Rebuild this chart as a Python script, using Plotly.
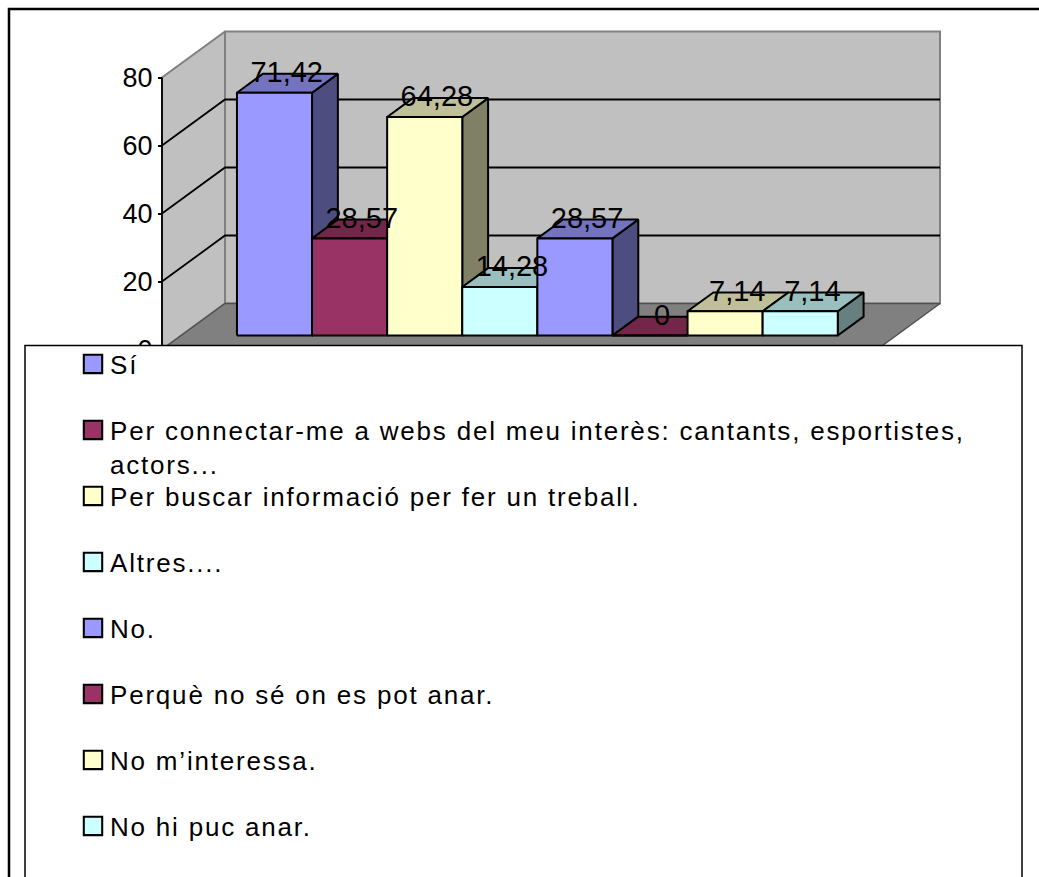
import plotly.graph_objects as go

# ---- data ----
categories = ["Sí",
              "Per connectar-me a webs del meu interès: cantants, esportistes,",
              "Per buscar informació per fer un treball.",
              "Altres....",
              "No.",
              "Perquè no sé on es pot anar.",
              "No m’interessa.",
              "No hi puc anar."]
values = [71.42, 28.57, 64.28, 14.28, 28.57, 0, 7.14, 7.14]
wrapped_line = "actors..."
front_colors = ["#9999FF", "#993366", "#FFFFCC", "#CCFFFF"] * 2
side_colors = ["#4D4D80", "#4D1A33", "#808066", "#668080"] * 2
top_colors = ["#7373BF", "#732649", "#BFBF99", "#99BFBF"] * 2
y_ticks = [0, 20, 40, 60, 80]

# ---- pseudo-3D geometry, in pixels of the page ----
W, H = 1039, 877
PX_CAT, PX_VAL = 75.1, 3.4          # pixels per bar slot / per value unit
ORIGIN_X, ORIGIN_Y = 217.8, 349.5   # pixel of category 0, value 0, depth 0
DEPTH_X, DEPTH_Y = 63.0, 46.0       # pixel shift from front to back of floor
FRONT_D, BACK_D = 0.304, 0.714      # where bars sit in the depth
CAT_L, CAT_R = -0.743, 8.778        # floor ends in category units
VAL_MAX = y_ticks[-1]
LABEL_DROP = 6 / PX_VAL             # data labels sit slightly into the bar top


def pt(cat, val, d):
    """Oblique projection to axis units."""
    return cat + d * DEPTH_X / PX_CAT, val + d * DEPTH_Y / PX_VAL


def poly(*corners):
    pts = [pt(*c) for c in corners]
    pts.append(pts[0])
    return [p[0] for p in pts], [p[1] for p in pts]


fig = go.Figure()


def face(corners, fill, line="#000000", width=2):
    x, y = poly(*corners)
    fig.add_trace(go.Scatter(x=x, y=y, mode="lines", fill="toself", fillcolor=fill,
                             line=dict(color=line, width=width), hoverinfo="skip",
                             showlegend=False))


def stroke(corners, color, width):
    pts = [pt(*c) for c in corners]
    fig.add_trace(go.Scatter(x=[p[0] for p in pts], y=[p[1] for p in pts], mode="lines",
                             line=dict(color=color, width=width), hoverinfo="skip",
                             showlegend=False))


# walls and floor
face([(CAT_L, 0, 0), (CAT_L, 0, 1), (CAT_L, VAL_MAX, 1), (CAT_L, VAL_MAX, 0)], "#C0C0C0", "#808080", 2)
face([(CAT_L, 0, 1), (CAT_R, 0, 1), (CAT_R, VAL_MAX, 1), (CAT_L, VAL_MAX, 1)], "#C0C0C0", "#808080", 2)
face([(CAT_L, 0, 0), (CAT_R, 0, 0), (CAT_R, 0, 1), (CAT_L, 0, 1)], "#808080", "#505050", 1.5)
for v in y_ticks[1:-1]:
    stroke([(CAT_L, v, 0), (CAT_L, v, 1), (CAT_R, v, 1)], "#000000", 1.8)
stroke([(CAT_L, 0, 0), (CAT_L, VAL_MAX, 0)], "#000000", 1.8)

# bars, left to right so later bars overlap earlier ones
for i, v in enumerate(values):
    l, r = i, i + 1
    face([(r, 0, FRONT_D), (r, 0, BACK_D), (r, v, BACK_D), (r, v, FRONT_D)], side_colors[i])
    face([(l, v, FRONT_D), (r, v, FRONT_D), (r, v, BACK_D), (l, v, BACK_D)], top_colors[i])
    face([(l, 0, FRONT_D), (r, 0, FRONT_D), (r, v, FRONT_D), (l, v, FRONT_D)], front_colors[i])

# data labels on top of every bar
mid = (FRONT_D + BACK_D) / 2
lab = [pt(i + 0.49, v - LABEL_DROP, mid) for i, v in enumerate(values)]
fig.add_trace(go.Scatter(x=[p[0] for p in lab], y=[p[1] for p in lab], mode="text",
                         text=[f"{v:g}".replace(".", ",") for v in values],
                         textposition="top center",
                         textfont=dict(family="Liberation Sans", size=29, color="#000000"),
                         hoverinfo="skip", showlegend=False))

# legend entries
for i, name in enumerate(categories):
    fig.add_trace(go.Scatter(x=[None], y=[None], mode="markers", name=name, legendgroup=f"g{i}",
                             marker=dict(symbol="square", size=16, color=front_colors[i],
                                         line=dict(color="#000000", width=1.8))))

fig.update_layout(
    width=W, height=H, margin=dict(l=0, r=0, t=0, b=0),
    paper_bgcolor="#FFFFFF", plot_bgcolor="#FFFFFF", hovermode=False,
    font=dict(family="Liberation Sans", color="#000000"),
    xaxis=dict(visible=False, domain=[0, 1], range=[-ORIGIN_X / PX_CAT, (W - ORIGIN_X) / PX_CAT]),
    yaxis=dict(domain=[0, 1], range=[(ORIGIN_Y - H) / PX_VAL, ORIGIN_Y / PX_VAL],
               anchor="free", position=162 / W, side="left",
               tickvals=y_ticks, ticks="outside", ticklen=4, tickwidth=1.5, tickcolor="#000000",
               tickfont=dict(size=27, family="Liberation Sans"),
               showgrid=False, zeroline=False, showline=False),
    legend=dict(x=70 / W, y=1 - 340.5 / H, xanchor="left", yanchor="top",
                bgcolor="rgba(0,0,0,0)", borderwidth=0, tracegroupgap=29.2,
                itemsizing="trace", itemclick=False, itemdoubleclick=False,
                font=dict(family="Liberation Sans", size=26, color="#000000")),
    shapes=[
        dict(type="rect", xref="paper", yref="paper", x0=9 / W, x1=1.1, y0=-0.1, y1=1 - 9 / H,
             line=dict(color="#000000", width=2.5), fillcolor="rgba(0,0,0,0)"),
        dict(type="rect", xref="paper", yref="paper", x0=25 / W, x1=1022 / W, y0=-0.1, y1=1 - 345.5 / H,
             line=dict(color="#000000", width=1.5), fillcolor="#FFFFFF"),
    ],
    annotations=[dict(text=wrapped_line, xref="paper", yref="paper", x=108 / W, y=1 - 465 / H,
                      xanchor="left", yanchor="middle", align="left", showarrow=False,
                      font=dict(family="Liberation Sans", size=26, color="#000000"))],
)

post = """
document.body.style.margin='0';document.body.style.overflow='hidden';
function sp(){document.querySelectorAll('.legendtext,.annotation-text').forEach(function(t){t.style.letterSpacing='1.8px';});
document.querySelectorAll('.legend .scrollbox,.legend').forEach(function(g){g.removeAttribute('clip-path');g.style.clipPath='none';});
document.querySelectorAll('.legendsymbols path.scatterpts').forEach(function(p){
 if(!p.dataset.big){p.dataset.big='1';p.setAttribute('transform',(p.getAttribute('transform')||'')+' translate(3,0) scale(1.15)');}});}
sp();setTimeout(sp,50);
"""
fig.write_html("out.html", post_script=post, config={"displayModeBar": False})
